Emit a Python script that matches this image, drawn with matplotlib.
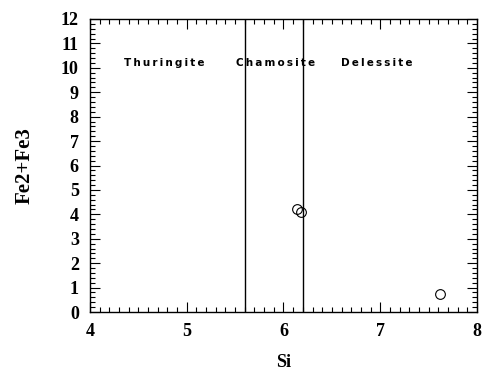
import matplotlib
matplotlib.use("Agg")
import matplotlib.pyplot as plt
from matplotlib.ticker import MultipleLocator

# Chlorite composition data
si = [6.14, 6.18, 7.62]
fe_total = [4.23, 4.08, 0.72]

# Field boundaries (Si) and field names
boundaries = [5.6, 6.2]
field_names = ["Thuringite", "Chamosite", "Delessite"]
field_x = [4.77, 5.92, 6.96]
field_y = 10.2

fig = plt.figure(figsize=(4.83, 3.71), dpi=100)
ax = fig.add_axes([0.1863, 0.159, 0.8013, 0.7898])

ax.set_xlim(4, 8)
ax.set_ylim(0, 12)

for b in boundaries:
    ax.axvline(b, color="black", lw=1.0)

ax.plot(si, fe_total, linestyle="none", marker="o", markersize=7,
        markerfacecolor="none", markeredgecolor="black", markeredgewidth=0.8)

for name, x in zip(field_names, field_x):
    spaced = "\u2009".join(name)
    ax.text(x, field_y, spaced, ha="center", va="center", fontsize=7.5,
            fontweight="bold", family="DejaVu Sans")

ax.xaxis.set_major_locator(MultipleLocator(1))
ax.xaxis.set_minor_locator(MultipleLocator(0.1))
ax.yaxis.set_major_locator(MultipleLocator(1))
ax.yaxis.set_minor_locator(MultipleLocator(0.2))
ax.tick_params(which="both", direction="in", top=True, right=True, width=0.8)
ax.tick_params(which="major", length=7)
ax.tick_params(which="minor", length=3.5)
ax.tick_params(axis="x", which="major", pad=8)
ax.tick_params(axis="y", which="major", pad=8)

for lab in ax.get_xticklabels() + ax.get_yticklabels():
    lab.set_family("Liberation Serif")
    lab.set_fontweight("bold")
    lab.set_fontsize(13)

for sp in ax.spines.values():
    sp.set_linewidth(1.0)

ax.set_xlabel("Si", family="Liberation Serif", fontweight="bold",
              fontsize=13, labelpad=10)
ax.set_ylabel("Fe2+Fe3", family="Liberation Serif", fontweight="bold",
              fontsize=15, labelpad=19)

fig.savefig("out.png", dpi=100)
